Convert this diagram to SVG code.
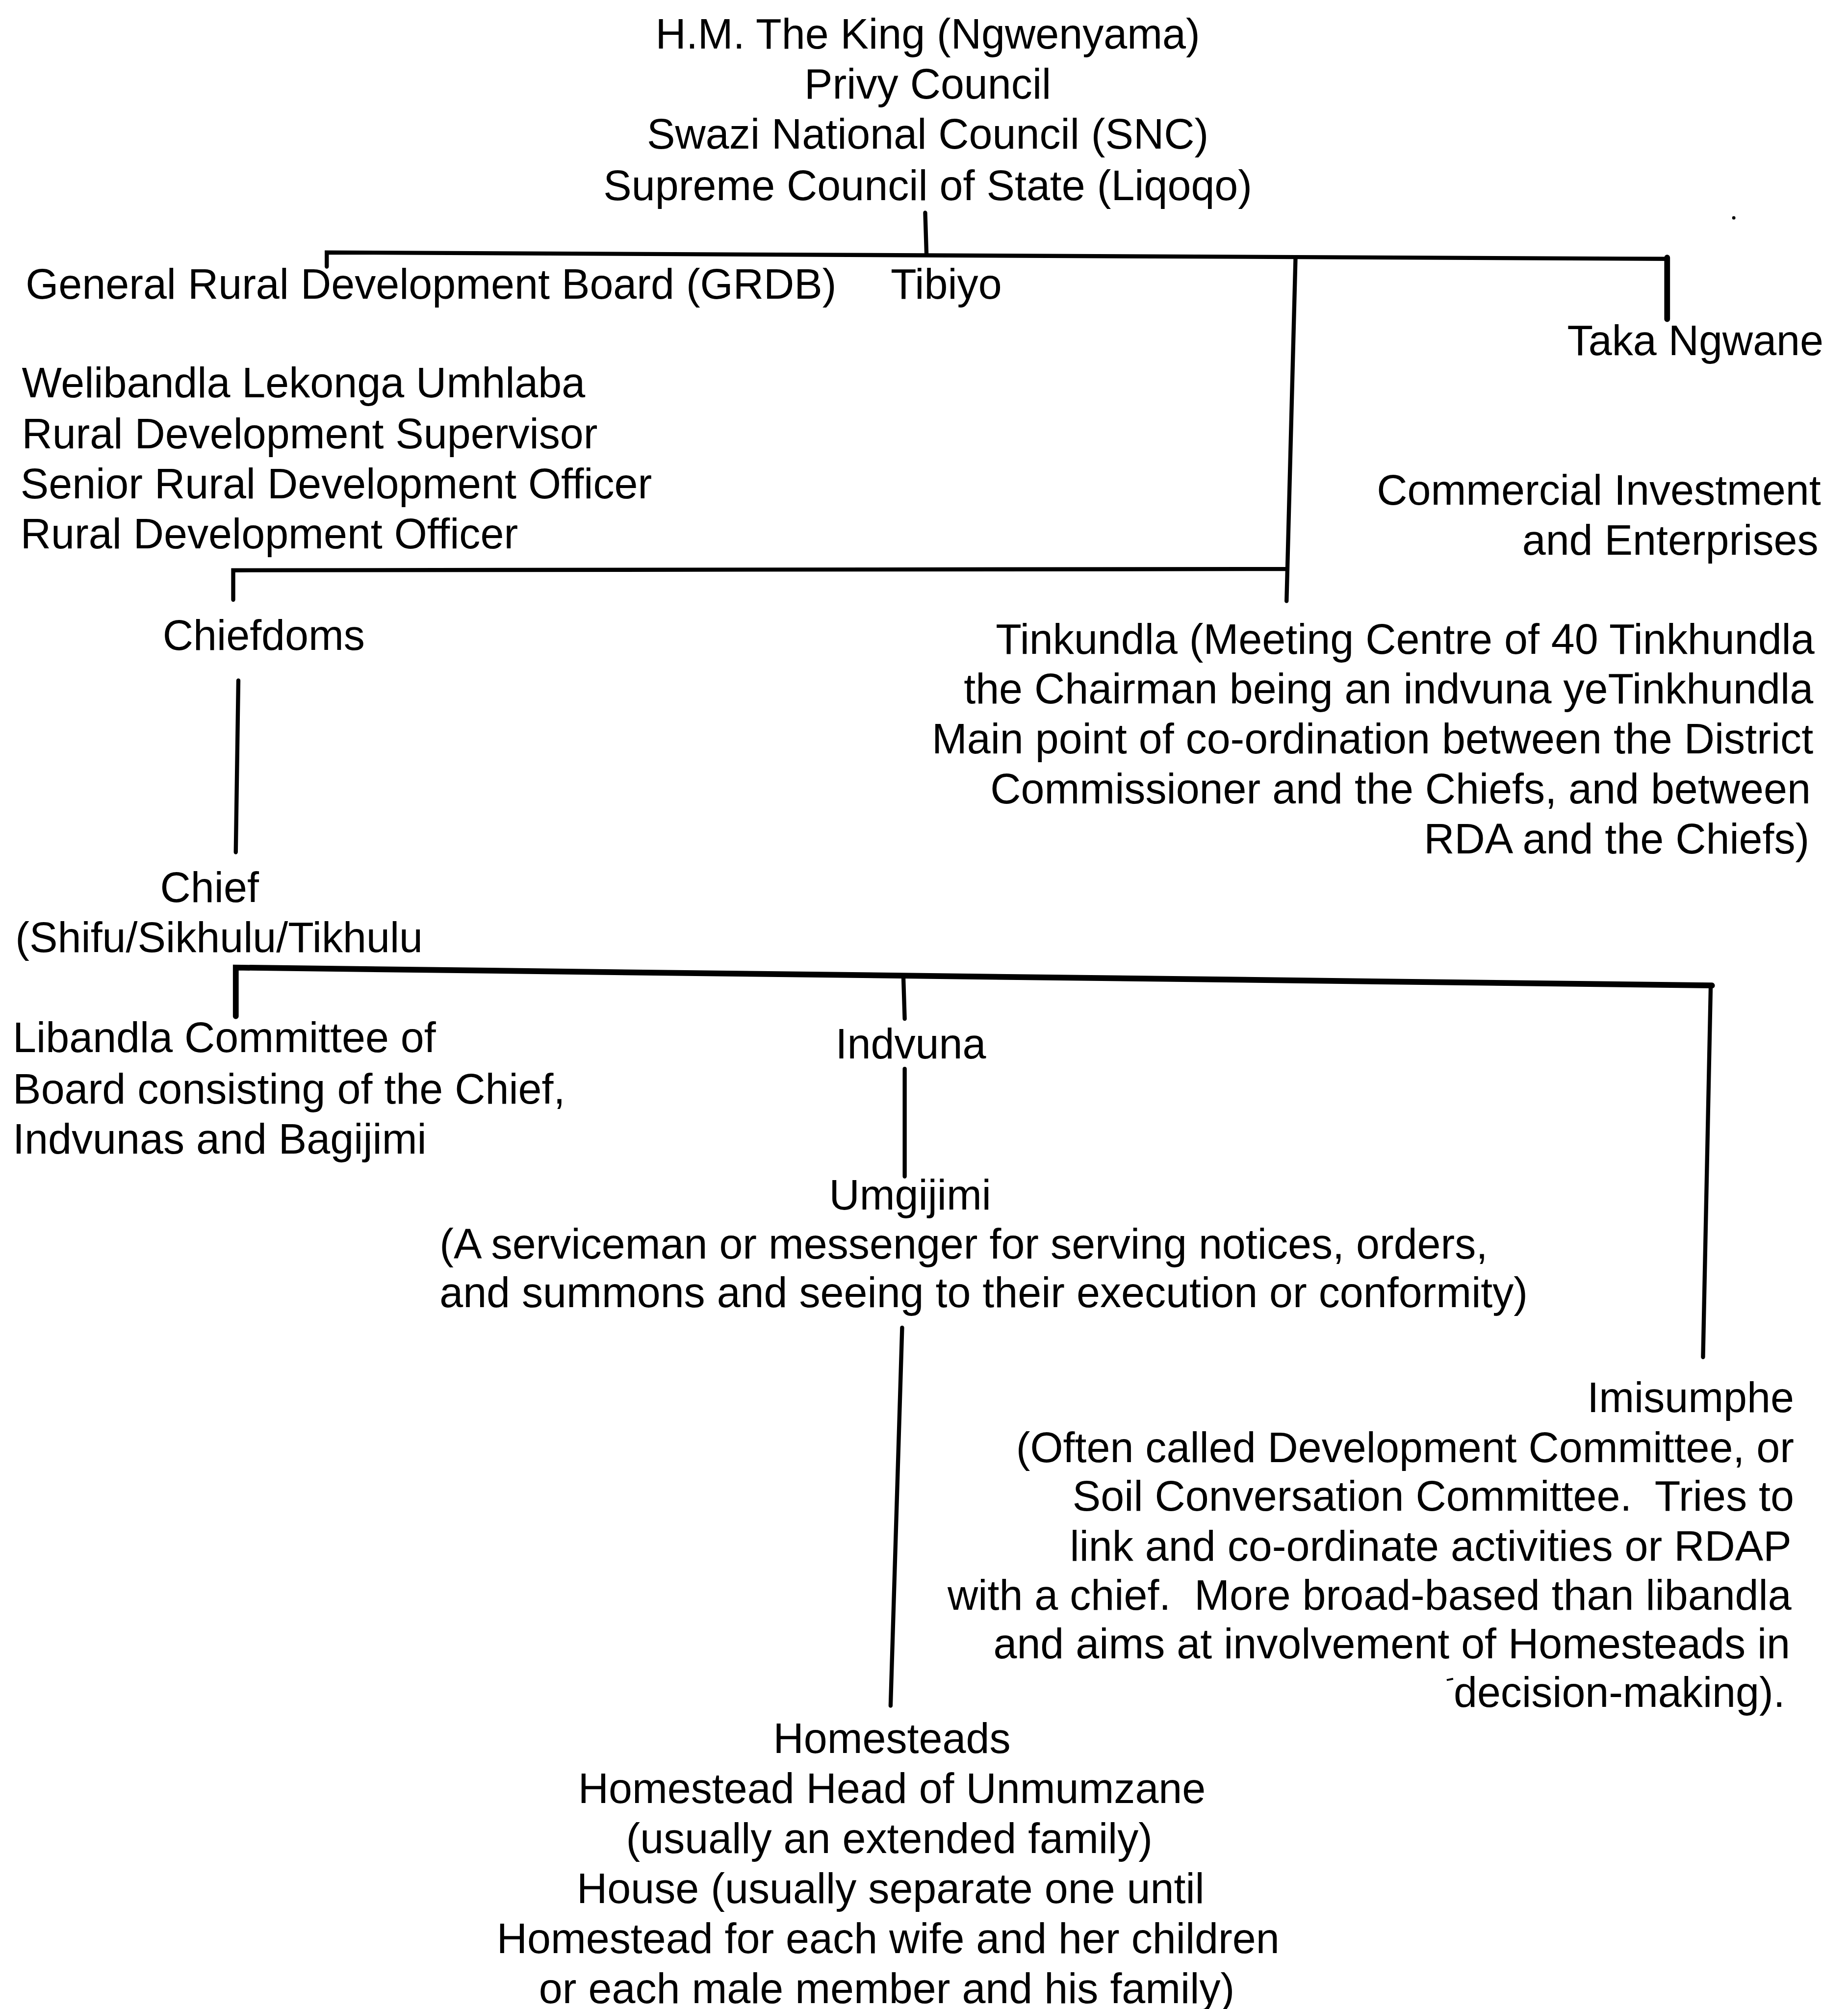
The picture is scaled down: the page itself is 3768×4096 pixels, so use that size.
<svg xmlns="http://www.w3.org/2000/svg" width="3768" height="4096" viewBox="0 0 3768 4096">
<style>
text{font-family:"Liberation Sans",Arial,sans-serif;font-size:33px;fill:#000}
.s{text-anchor:start}.e{text-anchor:end}.m{text-anchor:middle}
.c{stroke:#000;stroke-width:3.2;fill:none;stroke-linecap:round}
.t{stroke-width:4.5}
</style>
<rect width="3768" height="4096" fill="#fff"/>
<g transform="scale(2.6128)">
<g id="connectors">
<path class="c" d="M722 166 L723 198"/>
<path class="c" d="M255 208 L255 197 L1301 202"/>
<path class="c" d="M1011 201 L1004 469"/>
<path class="c t" d="M1301 201 L1301 249"/>
<path class="c" d="M182 468 L182 445 L1004 444"/>
<path class="c" d="M186 531 L184 665"/>
<path class="c t" d="M184 793 L184 755 L1336 769"/>
<path class="c" d="M705 763 L706 795"/>
<path class="c" d="M1335 769 L1329 1059"/>
<path class="c" d="M706 834 L706 918"/>
<path class="c" d="M704 1036 L695 1331"/>
</g>
<g id="king">
<text class="m" x="724" y="38">H.M. The King (Ngwenyama)</text>
<text class="m" x="724" y="77">Privy Council</text>
<text class="m" x="724" y="116">Swazi National Council (SNC)</text>
<text class="m" x="724" y="156">Supreme Council of State (Liqoqo)</text>
</g>
<g id="grdb"><text class="s" x="20" y="233">General Rural Development Board (GRDB)</text></g>
<g id="tibiyo"><text class="s" x="695" y="233">Tibiyo</text></g>
<g id="takangwane"><text class="e" x="1423" y="277">Taka Ngwane</text></g>
<g id="welibandla">
<text class="s" x="17" y="310">Welibandla Lekonga Umhlaba</text>
<text class="s" x="17" y="350">Rural Development Supervisor</text>
<text class="s" x="16" y="389">Senior Rural Development Officer</text>
<text class="s" x="16" y="428">Rural Development Officer</text>
</g>
<g id="commercial">
<text class="e" x="1421" y="394">Commercial Investment</text>
<text class="e" x="1419" y="433">and Enterprises</text>
</g>
<g id="chiefdoms"><text class="s" x="127" y="507">Chiefdoms</text></g>
<g id="tinkundla">
<text class="e" x="1416" y="510">Tinkundla (Meeting Centre of 40 Tinkhundla</text>
<text class="e" x="1415" y="549">the Chairman being an indvuna yeTinkhundla</text>
<text class="e" x="1415" y="588">Main point of co-ordination between the District</text>
<text class="e" x="1413" y="627">Commissioner and the Chiefs, and between</text>
<text class="e" x="1412" y="666">RDA and the Chiefs)</text>
</g>
<g id="chief">
<text class="s" x="125" y="704">Chief</text>
<text class="s" x="12" y="743">(Shifu/Sikhulu/Tikhulu</text>
</g>
<g id="libandla">
<text class="s" x="10" y="821">Libandla Committee of</text>
<text class="s" x="10" y="861">Board consisting of the Chief,</text>
<text class="s" x="10" y="900">Indvunas and Bagijimi</text>
</g>
<g id="indvuna"><text class="s" x="652" y="826">Indvuna</text></g>
<g id="umgijimi">
<text class="s" x="647" y="944">Umgijimi</text>
<text class="s" x="343" y="982">(A serviceman or messenger for serving notices, orders,</text>
<text class="s" x="343" y="1020">and summons and seeing to their execution or conformity)</text>
</g>
<g id="imisumphe">
<text class="e" x="1400" y="1102">Imisumphe</text>
<text class="e" x="1400" y="1141">(Often called Development Committee, or</text>
<text class="e" x="1400" y="1179">Soil Conversation Committee.&#160; Tries to</text>
<text class="e" x="1398" y="1218">link and co-ordinate activities or RDAP</text>
<text class="e" x="1398" y="1256">with a chief.&#160; More broad-based than libandla</text>
<text class="e" x="1397" y="1294">and aims at involvement of Homesteads in</text>
<text class="e" x="1393" y="1332">decision-making).</text>
</g>
<g id="homesteads">
<text class="m" x="696" y="1368">Homesteads</text>
<text class="m" x="696" y="1407">Homestead Head of Unmumzane</text>
<text class="m" x="694" y="1446">(usually an extended family)</text>
<text class="m" x="695" y="1485">House (usually separate one until</text>
<text class="m" x="693" y="1524">Homestead for each wife and her children</text>
<text class="m" x="692" y="1563">or each male member and his family)</text>
</g>
<g id="specks">
<circle cx="1353" cy="170" r="1.3" fill="#000"/>
<path d="M1129 1311 L1134 1310" stroke="#000" stroke-width="1.5"/>
</g>
</g>
</svg>
